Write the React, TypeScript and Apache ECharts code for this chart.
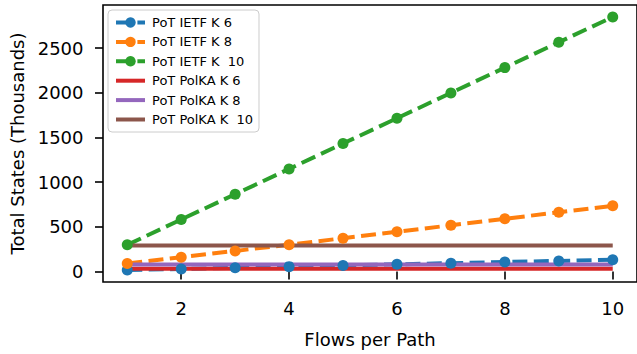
import React, { useEffect, useRef } from "react";
import * as echarts from "echarts";

const flows = [1, 2, 3, 4, 5, 6, 7, 8, 9, 10];
const ietfK6 = [16, 28, 41, 54, 67, 80, 93, 106, 118, 131];
const ietfK8 = [88, 160, 230, 300, 372, 445, 517, 590, 662, 735];
const ietfK10 = [298, 582, 865, 1148, 1432, 1715, 1999, 2282, 2566, 2849];
const polkaK6 = [30, 30, 30, 30, 30, 30, 30, 30, 30, 30];
const polkaK8 = [78, 78, 78, 78, 78, 78, 78, 78, 78, 78];
const polkaK10 = [290, 290, 290, 290, 290, 290, 290, 290, 290, 290];

const seriesNames = [
  "PoT IETF K 6",
  "PoT IETF K 8",
  "PoT IETF K  10",
  "PoT PolKA K 6",
  "PoT PolKA K 8",
  "PoT PolKA K  10",
];
const seriesValues = [ietfK6, ietfK8, ietfK10, polkaK6, polkaK8, polkaK10];
const colors = ["#1f77b4", "#ff7f0e", "#2ca02c", "#d62728", "#9467bd", "#8c564b"];
const dashed = [true, true, true, false, false, false];

const xTicks = [2, 4, 6, 8, 10];
const yTicks = [0, 500, 1000, 1500, 2000, 2500];

const FONT = "DejaVu Sans";

export default function App() {
  const ref = useRef<HTMLDivElement>(null);
  useEffect(() => {
    if (!ref.current) return;
    const chart = echarts.init(ref.current, null, { renderer: "svg" });
    const series = seriesValues.map((vals, i) => ({
      name: seriesNames[i],
      type: "line",
      data: flows.map((f, j) => [f, vals[j]]),
      symbol: dashed[i] ? "circle" : "none",
      symbolSize: 11,
      showSymbol: dashed[i],
      lineStyle: {
        color: colors[i],
        width: 4,
        type: dashed[i] ? [15, 6.4] : "solid",
        cap: "butt",
      },
      itemStyle: { color: colors[i], borderWidth: 0 },
      emphasis: { disabled: true },
      z: 2,
    }));
    chart.setOption({
      animation: false,
      backgroundColor: "#fff",
      textStyle: { fontFamily: FONT },
      grid: {
        left: 103,
        top: 5,
        width: 537,
        height: 277,
        show: true,
        borderColor: "#000",
        borderWidth: 1.6,
        backgroundColor: "transparent",
      },
      legend: {
        orient: "vertical",
        left: 108,
        top: 10,
        padding: [6, 6, 6, 6],
        itemWidth: 29,
        itemHeight: 13,
        itemGap: 6.4,
        backgroundColor: "rgba(255,255,255,0.8)",
        borderColor: "#cccccc",
        borderWidth: 1,
        borderRadius: 4,
        lineStyle: { width: 4, type: "inherit" },
        textStyle: {
          fontFamily: FONT,
          fontSize: 13,
          color: "#000",
          lineHeight: 13,
          padding: [0, 0, 0, 2],
        },
        data: seriesNames.map((n, i) =>
          dashed[i] ? { name: n } : { name: n, icon: "path://M0,0L29,0L29,4L0,4Z" }
        ),
      },
      xAxis: {
        type: "value",
        min: 0.55,
        max: 10.45,
        name: "Flows per Path",
        nameLocation: "middle",
        nameGap: 48,
        nameTextStyle: { fontFamily: FONT, fontSize: 18, color: "#000" },
        axisLine: { show: false },
        splitLine: { show: false },
        axisTick: {
          show: true,
          length: 8,
          lineStyle: { color: "#000", width: 1.6 },
          customValues: xTicks,
        },
        axisLabel: {
          fontFamily: FONT,
          fontSize: 18,
          color: "#000",
          margin: 17,
          customValues: xTicks,
          formatter: (v: number) => String(v),
        },
      },
      yAxis: {
        type: "value",
        min: -118,
        max: 2983,
        name: "Total States (Thousands)",
        nameLocation: "middle",
        nameRotate: 90,
        nameGap: 76,
        nameTextStyle: { fontFamily: FONT, fontSize: 18, color: "#000" },
        axisLine: { show: false },
        splitLine: { show: false },
        axisTick: {
          show: true,
          length: 8,
          lineStyle: { color: "#000", width: 1.6 },
          customValues: yTicks,
        },
        axisLabel: {
          fontFamily: FONT,
          fontSize: 18,
          color: "#000",
          margin: 19.5,
          customValues: yTicks,
          formatter: (v: number) => String(v),
        },
      },
      series,
    });
    return () => chart.dispose();
  }, []);
  return (
    <div
      ref={ref}
      style={{ position: "fixed", left: 0, top: 0, width: 637, height: 354, background: "#fff" }}
    />
  );
}
